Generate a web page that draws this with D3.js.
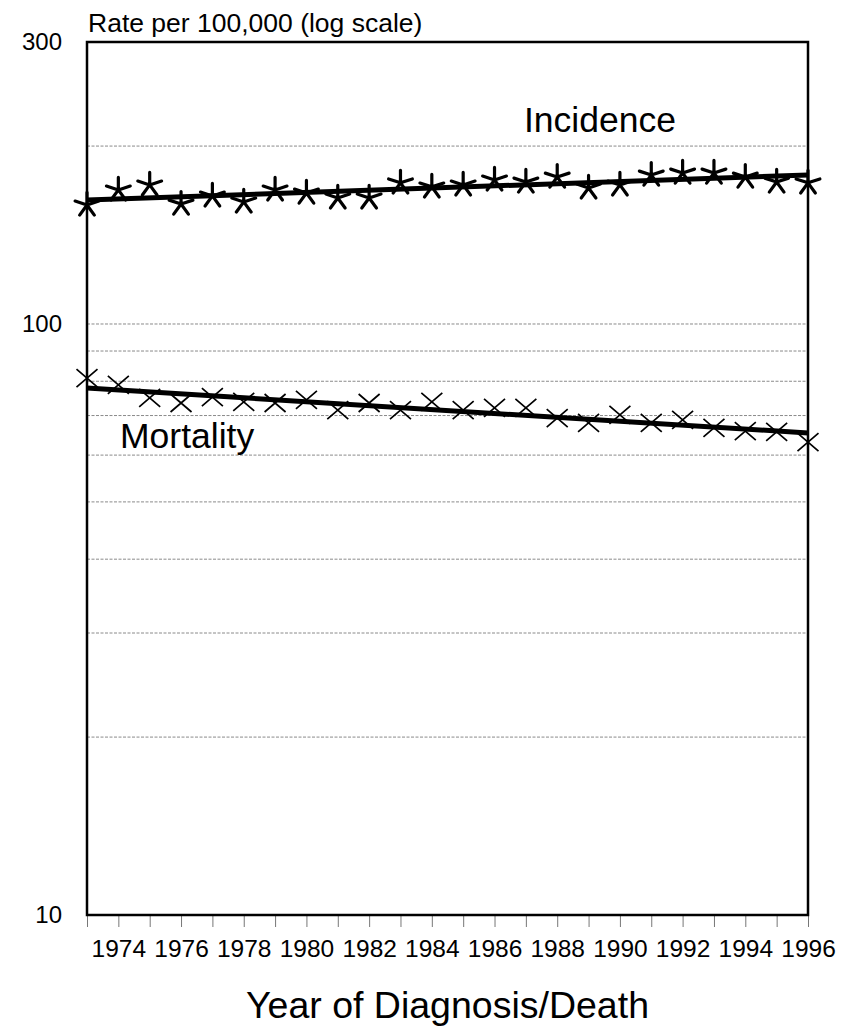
<!DOCTYPE html>
<html>
<head>
<meta charset="utf-8">
<script src="https://cdn.jsdelivr.net/npm/d3@7"></script>
<style>
  html, body { margin: 0; padding: 0; background: #fff; }
  svg, svg text { font-family: "Liberation Sans", Arial, sans-serif; }
  svg { display: block; }
</style>
</head>
<body>
<svg id="chart" width="856" height="1028"></svg>
<script>
// ---- data ----
const years = [1973,1974,1975,1976,1977,1978,1979,1980,1981,1982,1983,1984,
               1985,1986,1987,1988,1989,1990,1991,1992,1993,1994,1995,1996];
const incidence = [159.0,168.6,171.9,159.6,164.7,160.9,168.6,166.6,163.4,163.4,173.3,170.6,
                   171.9,175.3,173.9,177.3,169.9,171.9,178.7,180.1,180.1,177.3,173.9,173.3];
const mortality = [81.0,78.9,75.0,73.5,75.2,73.8,73.5,74.4,71.5,73.5,71.5,73.8,
                   71.5,72.1,72.1,69.3,68.0,70.2,68.0,68.8,66.7,65.9,65.7,63.1];
const trendYears = [1973, 1996];
const incidenceTrend = [162.1, 178.7];
const mortalityTrend = [77.9, 65.4];
const gridValues = [20,30,40,50,60,70,80,90,100,200];
const yTickValues = [10,100,300];
const xLabelYears = [1974,1976,1978,1980,1982,1984,1986,1988,1990,1992,1994,1996];

// ---- layout ----
const FONT = "'Liberation Sans', Arial, sans-serif";
const svg = d3.select("#chart");
const pL = 87, pR = 808, pT = 42, pB = 915;

const x = d3.scaleLinear().domain([1973, 1996]).range([pL, pR]);
const y = d3.scaleLog().domain([10, 300]).range([pB, pT]);

// gridlines
svg.append("g").selectAll("line").data(gridValues).join("line")
  .attr("x1", pL).attr("x2", pR)
  .attr("y1", d => y(d)).attr("y2", d => y(d))
  .attr("stroke", "#8a8a8a").attr("stroke-width", 1)
  .attr("stroke-dasharray", "3,1.5");

// x axis
const xAxis = d3.axisBottom(x)
  .tickValues(years)
  .tickFormat(d => xLabelYears.includes(d) ? String(d) : "")
  .tickSize(12).tickPadding(13);
const gx = svg.append("g").attr("transform", `translate(0,${pB})`).call(xAxis)
  .attr("font-family", FONT);
gx.select(".domain").remove();
gx.selectAll(".tick line").attr("stroke", "#777").attr("stroke-width", 1);
gx.selectAll(".tick text").attr("font-size", 24.5).attr("fill", "#000");

// y axis labels
const yAxis = d3.axisLeft(y).tickValues(yTickValues).tickFormat(d3.format("d"))
  .tickSize(0).tickPadding(25);
const gy = svg.append("g").attr("transform", `translate(${pL},0)`).call(yAxis)
  .attr("font-family", FONT);
gy.select(".domain").remove();
gy.selectAll(".tick text").attr("font-size", 24).attr("fill", "#000");

// frame
svg.append("rect")
  .attr("x", pL).attr("y", pT)
  .attr("width", pR - pL).attr("height", pB - pT)
  .attr("fill", "none").attr("stroke", "#000").attr("stroke-width", 2.5);

// trend lines
const line = d3.line().x(d => x(d[0])).y(d => y(d[1]));
svg.append("path")
  .attr("d", line(trendYears.map((yr, i) => [yr, incidenceTrend[i]])))
  .attr("fill", "none").attr("stroke", "#000").attr("stroke-width", 5);
svg.append("path")
  .attr("d", line(trendYears.map((yr, i) => [yr, mortalityTrend[i]])))
  .attr("fill", "none").attr("stroke", "#000").attr("stroke-width", 5);

// asterisk markers (incidence)
const r = 12.5;
const angles = [90, 18, 162, -54, 234].map(a => a * Math.PI / 180);
const astPath = angles.map(a => `M0,0L${(r*Math.cos(a)).toFixed(2)},${(-r*Math.sin(a)).toFixed(2)}`).join("");
svg.append("g").selectAll("path").data(years.map((yr, i) => [yr, incidence[i]])).join("path")
  .attr("transform", d => `translate(${x(d[0])},${y(d[1])})`)
  .attr("d", astPath)
  .attr("fill", "none").attr("stroke", "#000").attr("stroke-width", 3.2)
  .attr("stroke-linecap", "round");

// x markers (mortality)
const hx = 10.5, hy = 9;
const xPath = `M${-hx},${-hy}L${hx},${hy}M${-hx},${hy}L${hx},${-hy}`;
svg.append("g").selectAll("path").data(years.map((yr, i) => [yr, mortality[i]])).join("path")
  .attr("transform", d => `translate(${x(d[0])},${y(d[1])})`)
  .attr("d", xPath)
  .attr("fill", "none").attr("stroke", "#000").attr("stroke-width", 1.7);

// labels
const labels = svg.append("g").attr("font-family", FONT).attr("fill", "#000");
labels.append("text").attr("x", 88).attr("y", 32)
  .attr("font-size", 26.5).text("Rate per 100,000 (log scale)");
labels.append("text").attr("x", 524).attr("y", 132)
  .attr("font-size", 35.5).text("Incidence");
labels.append("text").attr("x", 120).attr("y", 448)
  .attr("font-size", 35.5).text("Mortality");
labels.append("text").attr("x", (pL + pR) / 2).attr("y", 1018)
  .attr("text-anchor", "middle").attr("font-size", 37.5).text("Year of Diagnosis/Death");
</script>
</body>
</html>
